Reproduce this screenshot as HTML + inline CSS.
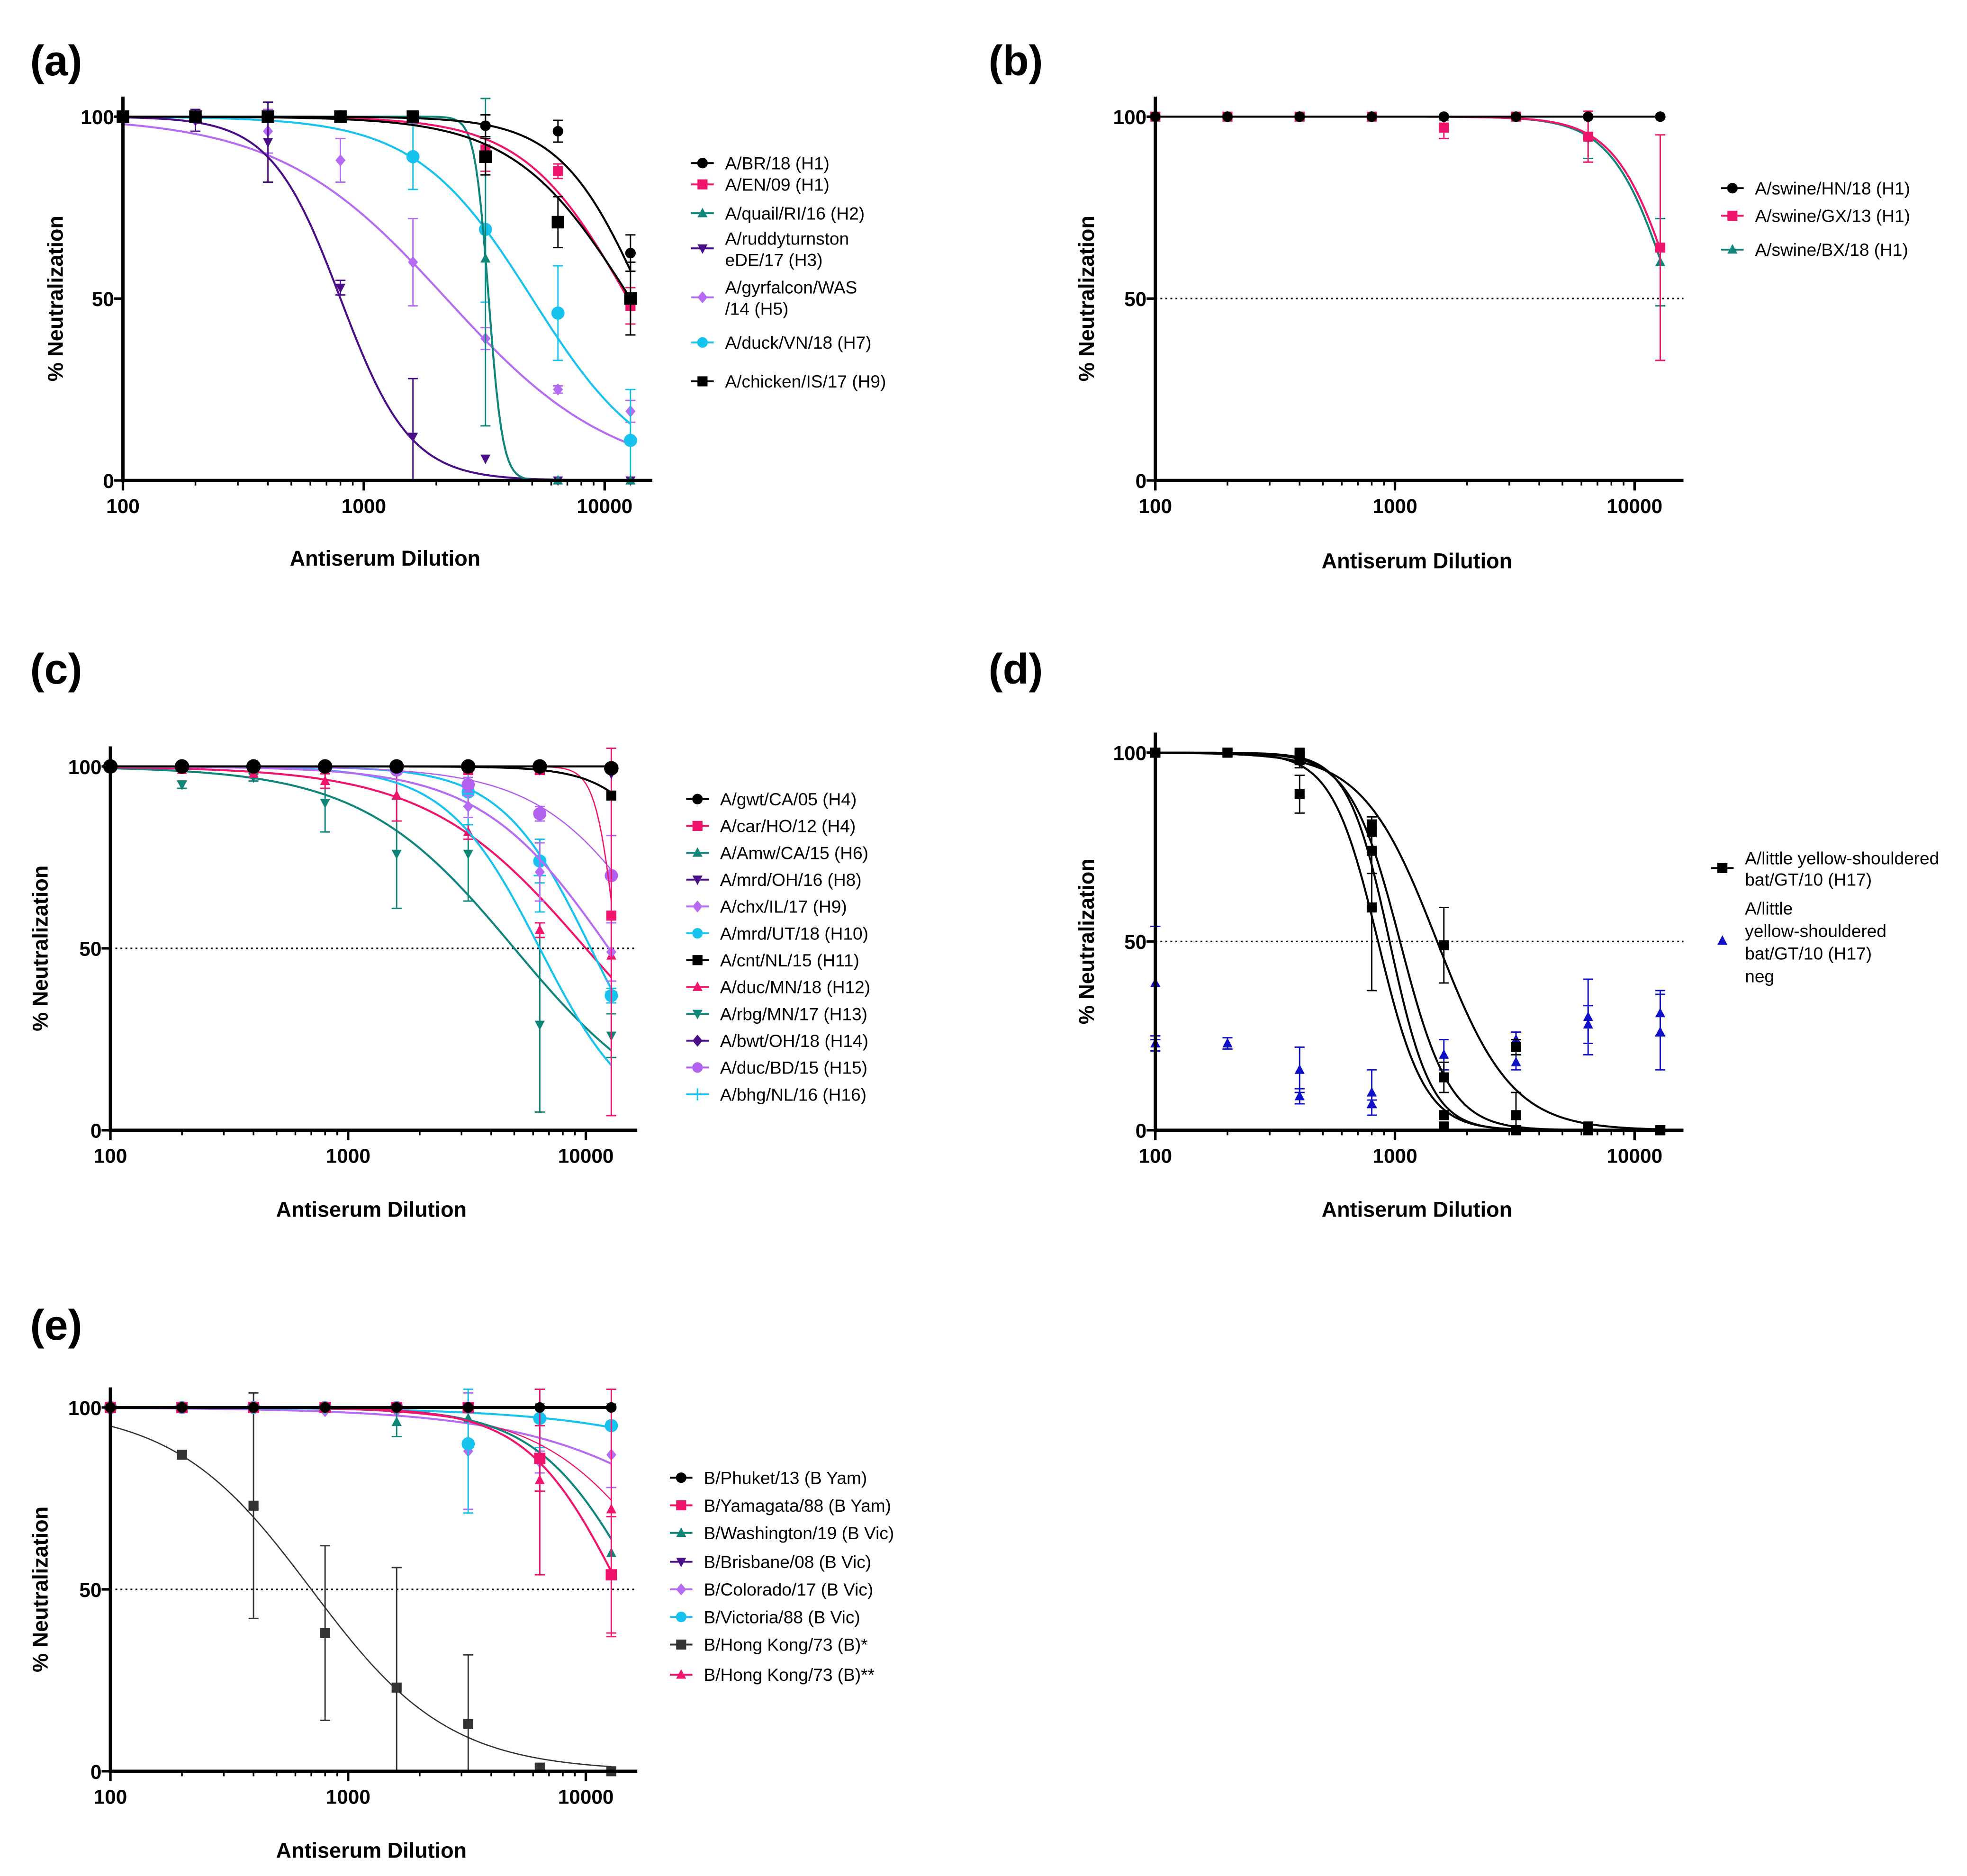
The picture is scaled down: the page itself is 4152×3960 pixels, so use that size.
<!DOCTYPE html>
<html><head><meta charset="utf-8"><style>
html,body{margin:0;padding:0;background:#fff}
svg{display:block}
text{font-family:"Liberation Sans",Arial,sans-serif}
</style></head><body>
<svg id="fig" xmlns="http://www.w3.org/2000/svg" width="4152" height="3960" viewBox="0 0 1568 1495.5">
<rect width="1568" height="1495.5" fill="#fff"/>
<text x="24" y="60" font-size="34" font-weight="bold">(a)</text>
<text x="788" y="60" font-size="34" font-weight="bold">(b)</text>
<text x="24" y="545" font-size="34" font-weight="bold">(c)</text>
<text x="788" y="545" font-size="34" font-weight="bold">(d)</text>
<text x="24" y="1068" font-size="34" font-weight="bold">(e)</text>
</svg>
<script>
const dil=[100,200,400,800,1600,3200,6400,12800];
const xTicks=[100,1000,10000];
const xTickLabels=["100","1000","10000"];
const yTicks=[0,50,100];
const yTickLabels=["0","50","100"];
// Panel (a)
const aBR=[100,100,100,100,100,97.5,96,62.5];   const aBRerr=[0,0,0,0,0,3,3,5];
const aEN=[100,100,100,100,100,91,85,48];       const aENerr=[0,0,0,0,0,6,2,5];
const aQU=[100,100,100,100,100,61,0,0];         const aQUerr=[0,0,0,0,0,46,0,0];
const aRU=[100,99,93,53,12,6,0,0];              const aRUerr=[0,3,11,2,16,0,0,0];
const aGY=[100,99,96,88,60,39,25,19];           const aGYerr=[0,0,6,6,12,3,1,3];
const aDU=[100,100,100,100,89,69,46,11];        const aDUerr=[0,0,0,0,9,20,13,14];
const aCH=[100,100,100,100,100,89,71,50];       const aCHerr=[0,0,0,0,0,5,7,10];
const aIC=[14500,12500,3300,800,2200,5000,12800];
const aHill=[2.5,2.0,15,3,1.25,1.8,1.8];
// Panel (b)
const bHN=[100,100,100,100,100,100,100,100];
const bGX=[100,100,100,100,97,100,94.5,64]; const bGXerr=[0,0,0,0,3,0,7,31];
const bBX=[100,100,100,100,100,100,94.5,60]; const bBXerr=[0,0,0,0,0,0,6,12];
const bIC=[1e9,15000,14500];
const bHill=[1,3.5,3.5];
// Panel (c)
const cGW=[100,100,100,100,100,100,100,99.5];
const cCA=[100,100,100,100,100,99,99,59];    const cCAerr=[0,0,0,0,0,1,1,55];
const cAM=[100,100,100,100,100,100,100,100];
const cMO=[100,100,100,100,100,100,99,98];
const cCX=[100,100,100,100,99,89,71,49];     const cCXerr=[0,0,0,0,1,3,8,8];
const cMU=[100,100,100,100,99,93,74,37];     const cMUerr=[0,0,0,0,1,4,6,2];
const cCN=[100,100,100,100,100,100,100,92];
const cDM=[100,99,98,96,92,82,55,48];        const cDMerr=[0,0,0,2,7,2,2,44];
const cRB=[100,95,97,90,76,76,29,26];        const cRBerr=[0,1,1,8,15,13,24,6];
const cBW=[100,100,100,100,100,100,99.5,99];
const cBD=[100,100,100,100,99,95,87,70];     const cBDerr=[0,0,0,0,0,2,2,11];
const cBH=[100,100,100,100,100,92,70,38];    const cBHerr=[0,0,0,0,0,8,10,3];
const cIC=[1e9,13500,1e9,1e9,12500,10500,30000,10000,5000,1e9,22000,6400];
const cHill=[1,10,1,1,1.6,2.3,3,1.3,1.35,1,1.7,2.2];
// Panel (d)
const dR1=[100,100,100,81,14,0,0,0];  const dR1err=[0,0,1,2,4,0,0,0];
const dR2=[100,100,89,59,1,0,0,0];    const dR2err=[0,0,5,22,0,0,0,0];
const dR3=[100,100,98,74,4,4,1,0];    const dR3err=[0,0,2,6,0,6,0,0];
const dR4=[100,100,99,79,49,22,0.5,0];const dR4err=[0,0,1,1,10,2,0,0];
const dIC=[850,950,1050,1500];
const dHill=[4.5,5,4.2,2.8];
const dNegX=[100,100,200,400,400,800,800,1600,3200,3200,6400,6400,12800,12800];
const dNegY=[39,23,23,16,9,10,7,20,24,18,30,28,31,26];
const dNegErr=[15,2,1.5,6,2,6,1,4,2,2,10,5,6,10];
// Panel (e)
const ePH=[100,100,100,100,100,100,100,100];
const eYA=[100,100,100,100,100,100,86,54];   const eYAerr=[0,0,0,0,0,0,9,16];
const eWA=[100,100,100,100,96,97,86,60];     const eWAerr=[0,0,0,0,4,0,0,0];
const eBR=[100,100,100,100,100,100,100,100];
const eCO=[100,100,100,99,99,88,85,87];      const eCOerr=[0,0,0,0,0,16,3,9];
const eVI=[100,100,100,100,100,90,97,95];    const eVIerr=[0,0,0,0,0,19,8,1];
const eHK1=[100,87,73,38,23,13,1,0];         const eHK1err=[0,0,31,24,33,19,0,0];
const eHK2=[100,100,100,100,100,100,80,72];  const eHK2err=[0,0,0,0,0,0,26,35];
const eIC=[1e9,14000,17000,1e9,70000,220000,700,25000];
const eHill=[1,2.2,2.0,1,1,1,1.5,1.6];

const NS="http://www.w3.org/2000/svg";
const svg=document.getElementById('fig');
function mk(tag,attrs,parent){const e=document.createElementNS(NS,tag);for(const k in attrs)e.setAttribute(k,attrs[k]);(parent||svg).appendChild(e);return e;}
const C={blk:"#000",pink:"#f0146c",teal:"#10857a",dpur:"#4a0f86",lpur:"#b56cf2",cyan:"#16c2ee",viol:"#b260ee",grey:"#333",blue:"#1010c8"};

function marker(g,shape,cx,cy,r,color){
  let e;
  if(shape==='circle')e=mk('circle',{cx,cy,r:r*1.05,fill:color},g);
  else if(shape==='square')e=mk('rect',{x:cx-r,y:cy-r,width:2*r,height:2*r,fill:color},g);
  else if(shape==='tri')e=mk('polygon',{points:`${cx},${cy-r*1.1} ${cx-r},${cy+r*0.8} ${cx+r},${cy+r*0.8}`,fill:color},g);
  else if(shape==='dtri')e=mk('polygon',{points:`${cx},${cy+r*1.1} ${cx-r},${cy-r*0.8} ${cx+r},${cy-r*0.8}`,fill:color},g);
  else if(shape==='diamond')e=mk('polygon',{points:`${cx},${cy-r*1.2} ${cx-r},${cy} ${cx},${cy+r*1.2} ${cx+r},${cy}`,fill:color},g);
  else if(shape==='plus'){e=mk('path',{d:`M${cx-r*1.2},${cy}H${cx+r*1.2}M${cx},${cy-r*1.2}V${cy+r*1.2}`,stroke:color,'stroke-width':1.2},g);}
  return e;
}

function panel(p){
  const g=mk('g',{});
  
  
  const X=v=>p.x0+Math.log10(v/100)*p.dec;
  const Y=v=>p.y0-v/100*(p.y0-p.y100);
  const xmax=p.xend;
  if(p.dotted){const l=mk('line',{x1:p.x0,x2:xmax,y1:Y(50),y2:Y(50),stroke:'#000','stroke-width':1.2,'stroke-dasharray':'1.5,2.5'},g);
    }
  p.series.forEach((s,si)=>{
    const sg=mk('g',{},g);
    
    
    if(s.ic!==undefined){
      let d='';const N=200;const lo=Math.log10(s.from||100),hi=Math.log10(12800);
      for(let i=0;i<=N;i++){const lv=lo+(hi-lo)*i/N;const v=Math.pow(10,lv);
        const yv=100/(1+Math.pow(v/s.ic,s.hill));d+=(i?'L':'M')+X(v).toFixed(2)+','+Y(yv).toFixed(2);}
      const c=mk('path',{d,fill:'none',stroke:s.color,'stroke-width':s.lw||1.6},sg);
      
    }
    const xs=s.xs||dil;
    xs.forEach((xv,i)=>{
      const yv=s.y[i];const cx=X(xv),cy=Y(yv);
      const er=s.err?s.err[i]:0;
      if(er>0){
        const t=Math.min(105,yv+er),b=Math.max(0,yv-er);
        mk('path',{d:`M${cx},${Y(t)}V${Y(b)}M${cx-4},${Y(t)}H${cx+4}M${cx-4},${Y(b)}H${cx+4}`,stroke:s.color,'stroke-width':1.1,fill:'none'},sg);
      }
      const m=marker(sg,s.shape,cx,cy,s.r||4,s.color);
      
      
    });
  });
  const ax=mk('path',{d:`M${p.x0},${p.y100-16}V${p.y0}H${xmax}`,stroke:'#000','stroke-width':2.6,fill:'none'},g);
  
  for(let dec=100;dec<=10000;dec*=10){for(let k=2;k<=9;k++){const v=dec*k;if(X(v)>xmax)break;
    mk('line',{x1:X(v),x2:X(v),y1:p.y0,y2:p.y0+4,stroke:'#000','stroke-width':1.3},g);}}
  xTicks.forEach((v,i)=>{mk('line',{x1:X(v),x2:X(v),y1:p.y0,y2:p.y0+8,stroke:'#000','stroke-width':2},g);
    const t=mk('text',{x:X(v),y:p.y0+26,'font-size':16,'font-weight':'bold','text-anchor':'middle'},g);t.textContent=xTickLabels[i];
    });
  yTicks.forEach((v,i)=>{mk('line',{x1:p.x0-7,x2:p.x0,y1:Y(v),y2:Y(v),stroke:'#000','stroke-width':2},g);
    const t=mk('text',{x:p.x0-7,y:Y(v)+6,'font-size':16,'font-weight':'bold','text-anchor':'end'},g);t.textContent=yTickLabels[i];
    });
  const xt=mk('text',{x:(p.x0+xmax)/2-2,y:p.xlabY,'font-size':17,'font-weight':'bold','text-anchor':'middle'},g);xt.textContent='Antiserum Dilution';
  
  const yt=mk('text',{x:0,y:0,'font-size':17,'font-weight':'bold','text-anchor':'middle',transform:`translate(${p.ylabX},${(p.y0+p.y100)/2}) rotate(-90)`},g);yt.textContent='% Neutralization';
  
  p.legend.forEach(L=>{
    const lg=mk('g',{},g);
    
    
    if(!L.noLine)mk('line',{x1:p.legX-9,x2:p.legX+9,y1:L.my,y2:L.my,stroke:L.color,'stroke-width':1.5},lg);
    marker(lg,L.shape,p.legX,L.my,4,L.color);
    L.lines.forEach((tx,k)=>{const t=mk('text',{x:p.legX+18+(L.indent||0),y:L.ty[k]+5,'font-size':14},lg);t.textContent=tx;});
  });
}

panel({id:'a',x0:98,dec:192,y0:383,y100:93,xend:520,xlabY:451,ylabX:50,dotted:false,legX:560,
 series:[
  {key:'gyrfalcon',y:aGY,err:aGYerr,shape:'diamond',color:C.lpur,ic:aIC[4],hill:aHill[4]},
  {key:'duck-vn',y:aDU,err:aDUerr,shape:'circle',color:C.cyan,ic:aIC[5],hill:aHill[5],r:5},
  {key:'ruddyturnstone',y:aRU,err:aRUerr,shape:'dtri',color:C.dpur,ic:aIC[3],hill:aHill[3]},
  {key:'quail',y:aQU,err:aQUerr,shape:'tri',color:C.teal,ic:aIC[2],hill:aHill[2]},
  {key:'en09',y:aEN,err:aENerr,shape:'square',color:C.pink,ic:aIC[1],hill:aHill[1]},
  {key:'chicken',y:aCH,err:aCHerr,shape:'square',color:C.blk,ic:aIC[6],hill:aHill[6],r:5},
  {key:'br18',y:aBR,err:aBRerr,shape:'circle',color:C.blk,ic:aIC[0],hill:aHill[0]}],
 legend:[
  {my:130,ty:[130],lines:['A/BR/18 (H1)'],shape:'circle',color:C.blk},
  {my:147,ty:[147],lines:['A/EN/09 (H1)'],shape:'square',color:C.pink},
  {my:170,ty:[170],lines:['A/quail/RI/16 (H2)'],shape:'tri',color:C.teal},
  {my:198,ty:[190,207],lines:['A/ruddyturnston','eDE/17 (H3)'],shape:'dtri',color:C.dpur},
  {my:237,ty:[229,246],lines:['A/gyrfalcon/WAS','/14 (H5)'],shape:'diamond',color:C.lpur},
  {my:273,ty:[273],lines:['A/duck/VN/18 (H7)'],shape:'circle',color:C.cyan},
  {my:304,ty:[304],lines:['A/chicken/IS/17 (H9)'],shape:'square',color:C.blk}]});

panel({id:'b',x0:921,dec:191,y0:383,y100:93,xend:1342,xlabY:453,ylabX:872,dotted:true,legX:1381,
 series:[
  {key:'bx18',y:bBX,err:bBXerr,shape:'tri',color:C.teal,ic:bIC[2],hill:bHill[2]},
  {key:'gx13',y:bGX,err:bGXerr,shape:'square',color:C.pink,ic:bIC[1],hill:bHill[1]},
  {key:'hn18',y:bHN,shape:'circle',color:C.blk,ic:bIC[0],hill:bHill[0]}],
 legend:[
  {my:150,ty:[150],lines:['A/swine/HN/18 (H1)'],shape:'circle',color:C.blk},
  {my:172,ty:[172],lines:['A/swine/GX/13 (H1)'],shape:'square',color:C.pink},
  {my:199,ty:[199],lines:['A/swine/BX/18 (H1)'],shape:'tri',color:C.teal}]});

panel({id:'c',x0:88,dec:189.5,y0:901,y100:611,xend:508,xlabY:970,ylabX:38,dotted:true,legX:556,
 series:[
  {key:'rbg',y:cRB,err:cRBerr,shape:'dtri',color:C.teal,ic:cIC[8],hill:cHill[8]},
  {key:'duc-mn',y:cDM,err:cDMerr,shape:'tri',color:C.pink,ic:cIC[7],hill:cHill[7]},
  {key:'bhg',y:cBH,err:cBHerr,shape:'plus',color:C.cyan,ic:cIC[11],hill:cHill[11]},
  {key:'mrd-ut',y:cMU,err:cMUerr,shape:'circle',color:C.cyan,ic:cIC[5],hill:cHill[5],r:5},
  {key:'chx',y:cCX,err:cCXerr,shape:'diamond',color:C.lpur,ic:cIC[4],hill:cHill[4]},
  {key:'duc-bd',y:cBD,err:cBDerr,shape:'circle',color:C.viol,ic:cIC[10],hill:cHill[10],lw:1,r:5},
  {key:'car',y:cCA,err:cCAerr,shape:'square',color:C.pink,ic:cIC[1],hill:cHill[1],lw:1},
  {key:'amw',y:cAM,shape:'tri',color:C.teal,ic:cIC[2],hill:cHill[2]},
  {key:'cnt',y:cCN,shape:'square',color:C.blk,ic:cIC[6],hill:cHill[6]},
  {key:'mrd-oh',y:cMO,shape:'dtri',color:C.dpur,ic:cIC[3],hill:cHill[3]},
  {key:'bwt',y:cBW,shape:'diamond',color:C.dpur,ic:cIC[9],hill:cHill[9]},
  {key:'gwt',y:cGW,shape:'circle',color:C.blk,ic:cIC[0],hill:cHill[0],r:5.5}],
 legend:[
  ['A/gwt/CA/05 (H4)','circle',C.blk],['A/car/HO/12 (H4)','square',C.pink],['A/Amw/CA/15 (H6)','tri',C.teal],
  ['A/mrd/OH/16 (H8)','dtri',C.dpur],['A/chx/IL/17 (H9)','diamond',C.lpur],['A/mrd/UT/18 (H10)','circle',C.cyan],
  ['A/cnt/NL/15 (H11)','square',C.blk],['A/duc/MN/18 (H12)','tri',C.pink],['A/rbg/MN/17 (H13)','dtri',C.teal],
  ['A/bwt/OH/18 (H14)','diamond',C.dpur],['A/duc/BD/15 (H15)','circle',C.viol],['A/bhg/NL/16 (H16)','plus',C.cyan]
 ].map((L,i)=>({my:637+i*21.4,ty:[637+i*21.4],lines:[L[0]],shape:L[1],color:L[2]}))});

panel({id:'d',x0:921,dec:191,y0:901,y100:600,xend:1342,xlabY:970,ylabX:872,dotted:true,legX:1373,
 series:[
  {key:'neg',xs:dNegX,y:dNegY,err:dNegErr,shape:'tri',color:C.blue},
  {key:'rep1',y:dR1,err:dR1err,shape:'square',color:C.blk,ic:dIC[0],hill:dHill[0]},
  {key:'rep2',y:dR2,err:dR2err,shape:'square',color:C.blk,ic:dIC[1],hill:dHill[1]},
  {key:'rep3',y:dR3,err:dR3err,shape:'square',color:C.blk,ic:dIC[2],hill:dHill[2]},
  {key:'rep4',y:dR4,err:dR4err,shape:'square',color:C.blk,ic:dIC[3],hill:dHill[3]}],
 legend:[
  {my:692,ty:[684,701],lines:['A/little yellow-shouldered','bat/GT/10 (H17)'],shape:'square',color:C.blk},
  {my:750,ty:[724,742,760,778],lines:[' A/little','yellow-shouldered','bat/GT/10 (H17)','neg'],shape:'tri',color:C.blue,noLine:true}]});

panel({id:'e',x0:88,dec:189.5,y0:1412,y100:1122,xend:508,xlabY:1481,ylabX:38,dotted:true,legX:543,
 series:[
  {key:'hk1',y:eHK1,err:eHK1err,shape:'square',color:C.grey,ic:eIC[6],hill:eHill[6],lw:1},
  {key:'colorado',y:eCO,err:eCOerr,shape:'diamond',color:C.lpur,ic:eIC[4],hill:eHill[4]},
  {key:'victoria',y:eVI,err:eVIerr,shape:'circle',color:C.cyan,ic:eIC[5],hill:eHill[5],r:5},
  {key:'hk2',y:eHK2,err:eHK2err,shape:'tri',color:C.pink,ic:eIC[7],hill:eHill[7],lw:0.9},
  {key:'washington',y:eWA,err:eWAerr,shape:'tri',color:C.teal,ic:eIC[2],hill:eHill[2]},
  {key:'yamagata',y:eYA,err:eYAerr,shape:'square',color:C.pink,ic:eIC[1],hill:eHill[1],r:4.5},
  {key:'brisbane',y:eBR,shape:'dtri',color:C.dpur,ic:eIC[3],hill:eHill[3]},
  {key:'phuket',y:ePH,shape:'circle',color:C.blk,ic:eIC[0],hill:eHill[0],lw:2.4}],
 legend:[
  ['B/Phuket/13 (B Yam)','circle',C.blk,1178],['B/Yamagata/88 (B Yam)','square',C.pink,1200],['B/Washington/19 (B Vic)','tri',C.teal,1222],
  ['B/Brisbane/08 (B Vic)','dtri',C.dpur,1245],['B/Colorado/17 (B Vic)','diamond',C.lpur,1267],['B/Victoria/88 (B Vic)','circle',C.cyan,1289],
  ['B/Hong Kong/73 (B)*','square',C.grey,1311],['B/Hong Kong/73 (B)**','tri',C.pink,1335]
 ].map(L=>({my:L[3],ty:[L[3]],lines:[L[0]],shape:L[1],color:L[2]}))});
</script>
</body></html>
